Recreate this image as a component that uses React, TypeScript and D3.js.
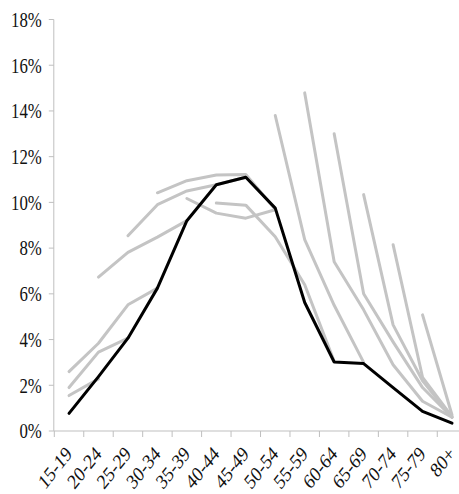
import React from "react";
import * as d3 from "d3";

// Age groups on the x axis
const ageGroups = [
  "15-19", "20-24", "25-29", "30-34", "35-39", "40-44", "45-49",
  "50-54", "55-59", "60-64", "65-69", "70-74", "75-79", "80+",
];

// Y axis ticks (percent)
const yTicks = [0, 2, 4, 6, 8, 10, 12, 14, 16, 18];

// Highlighted profile (percent share by age group)
const mainProfile = [0.77, 2.38, 4.06, 6.25, 9.2, 10.77, 11.1, 9.75, 5.62, 3.02, 2.95, 1.9, 0.86, 0.34];

// Background profiles, each covering part of the age range
const greyA = [2.6, 3.84, 5.52, 6.25, null, null, null, null, null, null, null, null, null, null];
const greyB = [1.9, 3.45, 4.06, null, null, null, null, null, null, null, null, null, null, null];
const greyC = [1.55, 2.28, null, null, null, null, null, null, null, null, null, null, null, null];
const greyD = [null, 6.73, 7.81, 8.48, 9.2, null, null, null, null, null, null, null, null, null];
const greyE = [null, null, 8.54, 9.9, 10.5, 10.77, 11.1, null, null, null, null, null, null, null];
const greyF = [null, null, null, 10.42, 10.95, 11.2, 11.22, 9.7, null, null, null, null, null, null];
const greyG = [null, null, null, null, 10.17, 9.53, 9.31, 9.68, null, null, null, null, null, null];
const greyH = [null, null, null, null, null, 9.97, 9.88, 8.5, 6.4, 3.05, null, null, null, null];
const greyI = [null, null, null, null, null, null, null, 13.8, 8.37, 5.5, 3.0, null, null, null];
const greyJ = [null, null, null, null, null, null, null, null, 14.79, 7.4, 5.3, 2.9, 1.3, 0.6];
const greyK = [null, null, null, null, null, null, null, null, null, 13.0, 6.0, 3.9, 1.9, 0.6];
const greyL = [null, null, null, null, null, null, null, null, null, null, 10.34, 4.64, 2.2, 0.6];
const greyM = [null, null, null, null, null, null, null, null, null, null, null, 8.15, 2.35, 0.63];
const greyN = [null, null, null, null, null, null, null, null, null, null, null, null, 5.08, 0.7];

const greySeries = [greyA, greyB, greyC, greyD, greyE, greyF, greyG, greyH, greyI, greyJ, greyK, greyL, greyM, greyN];

const W = 459;
const H = 494;
const left = 54.3;
const step = 29.46;
const axisY = 431;
const topY = 19.5;
const axisColor = "#bfbfbf";
const greyColor = "#c4c4c4";
const textColor = "#111";
const font = "'Liberation Serif', 'Times New Roman', serif";
const squeeze = 0.82;

export default function App() {
  const x = d3
    .scaleBand<string>()
    .domain(ageGroups)
    .range([left, left + step * ageGroups.length])
    .padding(0);
  const y = d3.scaleLinear().domain([0, 18]).range([axisY, topY]);
  const cx = (i: number) => (x(ageGroups[i]) as number) + x.bandwidth() / 2;

  const line = d3
    .line<number | null>()
    .defined((d) => d != null)
    .x((_, i) => cx(i))
    .y((d) => y(d as number));

  const bandEdges = ageGroups.map((g) => x(g) as number);

  return (
    <svg
      width={W}
      height={H}
      style={{ position: "absolute", left: 0, top: 0, background: "#fff" }}
    >
      {/* y axis */}
      <line x1={left - 0.5} x2={left - 0.5} y1={topY} y2={axisY} stroke={axisColor} strokeWidth={1} />
      {yTicks.map((t) => (
        <g key={t}>
          <line x1={left - 5.5} x2={left - 0.5} y1={y(t)} y2={y(t)} stroke={axisColor} strokeWidth={1} />
          <text
            transform={`translate(${left - 12.5},${y(t)}) scale(${squeeze},1)`}
            textAnchor="end"
            dy="0.36em"
            fontFamily={font}
            fontSize={20.5}
            fill={textColor}
          >
            {t}%
          </text>
        </g>
      ))}

      {/* x axis */}
      <line x1={left - 0.5} x2={W + 10} y1={axisY} y2={axisY} stroke={axisColor} strokeWidth={1} />
      {bandEdges.map((bx, i) => (
        <line key={i} x1={bx} x2={bx} y1={axisY} y2={axisY + 6} stroke={axisColor} strokeWidth={1} />
      ))}
      {ageGroups.map((g, i) => (
        <text
          key={g}
          transform={`translate(${cx(i) + 4},${axisY + 24}) scale(${squeeze},1) rotate(-46)`}
          textAnchor="end"
          fontFamily={font}
          fontSize={21}
          fill={textColor}
        >
          {g}
        </text>
      ))}

      {/* background profiles */}
      {greySeries.map((s, i) => (
        <path
          key={i}
          d={line(s) || ""}
          fill="none"
          stroke={greyColor}
          strokeWidth={3}
          strokeLinejoin="round"
          strokeLinecap="round"
        />
      ))}

      {/* highlighted profile */}
      <path
        d={line(mainProfile) || ""}
        fill="none"
        stroke="#000"
        strokeWidth={3}
        strokeLinejoin="round"
        strokeLinecap="round"
      />
    </svg>
  );
}
